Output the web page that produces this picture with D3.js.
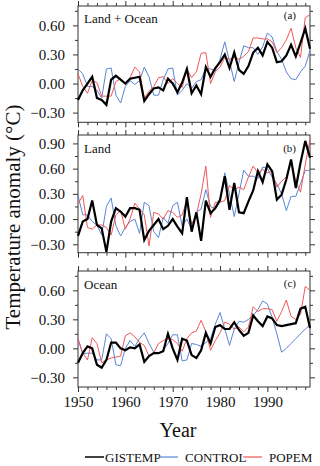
<!DOCTYPE html>
<html>
<head>
<meta charset="utf-8">
<script src="https://cdn.jsdelivr.net/npm/d3@7"></script>
<style>
  body { margin: 0; background: #fff; }
  svg { display: block; }
  text { font-family: "Liberation Serif", "DejaVu Serif", serif; fill: #111; }
</style>
</head>
<body>
<div class="container"></div>
<script>
// years on the x axis
let years = d3.range(1950, 2000);

// (a) Land + Ocean
let landOceanGistemp = [-0.17,-0.07,0.00,0.07,-0.15,-0.17,-0.22,0.04,0.08,0.04,
  0.00,0.05,0.06,0.07,-0.18,-0.11,-0.05,-0.04,-0.07,0.05,
  0.00,-0.09,0.01,0.15,-0.10,-0.02,-0.11,0.17,0.07,0.16,
  0.22,0.30,0.16,0.32,0.14,0.10,0.18,0.32,0.37,0.29,
  0.43,0.37,0.22,0.23,0.29,0.40,0.28,0.42,0.57,0.36];
let landOceanControl = [0.15,0.10,-0.03,-0.03,-0.07,-0.15,0.15,0.16,-0.12,-0.20,
  -0.03,0.03,-0.01,0.03,0.17,0.07,-0.12,-0.12,0.04,0.15,
  0.16,-0.12,-0.07,0.00,-0.05,0.02,0.04,0.16,0.15,0.13,
  0.25,0.43,0.23,0.02,0.22,0.39,0.37,0.37,0.30,0.38,
  0.52,0.48,0.33,0.25,0.12,0.05,0.04,0.12,0.18,0.34];
let landOceanPopem = [0.10,-0.03,-0.10,0.03,0.01,-0.13,-0.13,-0.13,0.02,0.05,
  -0.01,0.06,0.17,0.12,-0.15,-0.08,-0.03,0.06,0.07,0.00,
  0.05,0.00,-0.04,0.15,0.06,0.12,0.31,0.32,0.00,0.12,
  0.17,0.27,0.25,0.27,0.25,0.28,0.33,0.47,0.47,0.46,
  0.46,0.43,0.32,0.37,0.45,0.57,0.37,0.27,0.68,0.71];

// (b) Land
let landGistemp = [-0.20,-0.03,0.00,0.22,-0.07,-0.11,-0.39,-0.03,0.13,0.09,
  0.03,0.13,0.13,0.11,-0.25,-0.14,-0.07,0.00,-0.12,-0.08,
  0.00,-0.09,-0.17,0.26,-0.15,0.08,-0.26,0.22,0.07,0.13,
  0.23,0.51,0.11,0.43,0.08,0.07,0.21,0.34,0.57,0.44,
  0.65,0.57,0.23,0.29,0.47,0.71,0.37,0.67,0.93,0.73];
let landControl = [0.28,0.05,0.05,-0.03,-0.07,-0.19,0.15,0.25,-0.08,-0.20,
  -0.10,-0.03,0.00,-0.17,0.20,0.16,-0.15,-0.22,0.02,-0.05,
  0.16,0.20,-0.08,0.00,-0.12,0.08,0.12,0.35,0.15,0.12,
  0.20,0.55,0.30,0.03,0.30,0.58,0.51,0.51,0.48,0.62,
  0.60,0.50,0.42,0.30,0.10,0.27,0.27,0.42,0.58,0.58];
let landPopem = [0.18,0.28,-0.10,-0.12,-0.07,-0.07,-0.10,-0.19,0.05,0.10,
  -0.12,0.00,0.19,0.12,0.05,-0.32,0.08,0.06,0.00,0.10,
  0.08,0.02,0.05,0.22,-0.06,0.05,0.30,0.63,0.02,0.20,
  0.20,0.22,0.40,0.35,0.38,0.35,0.50,0.63,0.55,0.59,
  0.55,0.57,0.38,0.45,0.50,0.70,0.45,0.32,0.65,0.95];

// (c) Ocean
let oceanGistemp = [-0.15,-0.05,0.02,0.00,-0.17,-0.20,-0.12,0.06,0.06,0.00,
  -0.02,0.01,0.00,0.04,-0.14,-0.08,-0.05,-0.05,-0.03,0.15,
  0.00,-0.12,0.10,0.08,-0.07,-0.10,-0.02,0.16,0.05,0.22,
  0.24,0.20,0.20,0.27,0.19,0.13,0.16,0.34,0.28,0.23,
  0.33,0.31,0.24,0.23,0.24,0.25,0.26,0.41,0.43,0.21];
let oceanControl = [0.10,-0.06,-0.05,-0.05,-0.12,-0.12,0.15,0.10,-0.17,-0.18,
  0.00,0.08,0.02,0.10,0.16,0.05,-0.04,-0.05,-0.02,0.05,
  0.14,0.14,-0.13,-0.12,0.05,0.04,0.02,0.06,0.10,0.25,
  0.37,0.20,0.03,0.20,0.28,0.27,0.30,0.34,0.40,0.49,
  0.46,0.32,0.15,-0.04,0.00,0.05,0.10,0.15,0.20,0.24];
let oceanPopem = [0.10,-0.05,-0.12,0.11,0.05,-0.15,-0.12,-0.10,-0.09,-0.08,
  0.13,0.16,0.12,0.06,0.03,-0.08,-0.05,0.05,0.08,0.10,
  0.09,0.05,-0.03,0.10,0.16,0.18,0.29,0.17,-0.02,0.08,
  0.16,0.27,0.25,0.20,0.22,0.17,0.22,0.43,0.38,0.41,
  0.41,0.40,0.28,0.38,0.50,0.33,0.30,0.35,0.64,0.60];

let seriesNames = ['GISTEMP', 'CONTROL', 'POPEM'];

let outerWidth = 320, outerHeight = 466;
let colors = {GISTEMP: '#000000', CONTROL: '#5a86d4', POPEM: '#f05858'};
let widths = {GISTEMP: 2.2, CONTROL: 1, POPEM: 1};

let panels = [
  {name: 'Land + Ocean', tag: '(a)', top: 6, bottom: 122.3, domain: [-0.4, 0.8], labelY: 22.5, tagY: 19,
   series: {GISTEMP: landOceanGistemp, CONTROL: landOceanControl, POPEM: landOceanPopem}},
  {name: 'Land', tag: '(b)', top: 135, bottom: 252.7, domain: [-0.4, 1.0], labelY: 153, tagY: 152,
   series: {GISTEMP: landGistemp, CONTROL: landControl, POPEM: landPopem}},
  {name: 'Ocean', tag: '(c)', top: 271, bottom: 387, domain: [-0.4, 0.8], labelY: 289, tagY: 287,
   series: {GISTEMP: oceanGistemp, CONTROL: oceanControl, POPEM: oceanPopem}}
];

let svg = d3.select('.container').append('svg')
  .attr('width', outerWidth)
  .attr('height', outerHeight);

let xScale = d3.scaleLinear()
  .domain([1950, 1999])
  .range([78, 310]);

let majorYears = [1950, 1960, 1970, 1980, 1990];
let minorYears = years.filter(y => y % 2 == 0 && y % 10 != 0);

panels.forEach((p, pi) => {
  let yScale = d3.scaleLinear()
    .domain(p.domain)
    .range([p.bottom, p.top]);

  let g = svg.append('g').attr('class', 'panel');

  // y ticks every 0.15, labels on the 0.30 steps
  let allY = d3.range(-6, 8).map(k => +(k * 0.15).toFixed(2))
    .filter(v => v >= p.domain[0] && v <= p.domain[1]);
  let majorY = allY.filter(v => Math.round(v * 100) % 30 == 0);
  let minorY = allY.filter(v => Math.round(v * 100) % 30 != 0);

  let yAxisMajor = d3.axisLeft(yScale).tickValues(majorY).tickSize(5).tickPadding(8)
    .tickFormat(d3.format('.2f'));
  let yAxisMinor = d3.axisLeft(yScale).tickValues(minorY).tickSize(3).tickFormat('');
  let yRightMajor = d3.axisRight(yScale).tickValues(majorY).tickSize(5).tickFormat('');
  let yRightMinor = d3.axisRight(yScale).tickValues(minorY).tickSize(3).tickFormat('');

  g.append('g').attr('class', 'axis').attr('transform', 'translate(78,0)').call(yAxisMajor);
  g.append('g').attr('class', 'axis').attr('transform', 'translate(78,0)').call(yAxisMinor);
  g.append('g').attr('class', 'axis').attr('transform', 'translate(310,0)').call(yRightMajor);
  g.append('g').attr('class', 'axis').attr('transform', 'translate(310,0)').call(yRightMinor);

  let xTopMajor = d3.axisTop(xScale).tickValues(majorYears).tickSize(5).tickFormat('');
  let xTopMinor = d3.axisTop(xScale).tickValues(minorYears).tickSize(3).tickFormat('');
  let xBotMajor = d3.axisBottom(xScale).tickValues(majorYears).tickSize(5).tickPadding(4)
    .tickFormat(pi == 2 ? d3.format('d') : '');
  let xBotMinor = d3.axisBottom(xScale).tickValues(minorYears).tickSize(3).tickFormat('');

  g.append('g').attr('class', 'axis').attr('transform', `translate(0,${p.top})`).call(xTopMajor);
  g.append('g').attr('class', 'axis').attr('transform', `translate(0,${p.top})`).call(xTopMinor);
  g.append('g').attr('class', 'axis').attr('transform', `translate(0,${p.bottom})`).call(xBotMajor);
  g.append('g').attr('class', 'axis').attr('transform', `translate(0,${p.bottom})`).call(xBotMinor);

  // frame
  g.append('rect')
    .attr('x', 78).attr('y', p.top)
    .attr('width', 310 - 78).attr('height', p.bottom - p.top)
    .attr('fill', 'none').attr('stroke', '#333').attr('stroke-width', 1);

  let line = d3.line()
    .x((d, i) => xScale(years[i]))
    .y(d => yScale(d));

  ['CONTROL', 'POPEM', 'GISTEMP'].forEach(s => {
    g.append('path')
      .datum(p.series[s])
      .attr('d', line)
      .attr('fill', 'none')
      .attr('stroke', colors[s])
      .attr('stroke-width', widths[s])
      .attr('stroke-linejoin', 'miter');
  });

  g.append('text')
    .attr('x', 84).attr('y', p.labelY)
    .style('font-size', '13px')
    .text(p.name);

  g.append('text')
    .attr('x', 296).attr('y', p.tagY)
    .style('text-anchor', 'end')
    .style('font-size', '11px')
    .text(p.tag);
});

svg.selectAll('.axis path.domain').remove();
svg.selectAll('.axis line').attr('stroke', '#333');
svg.selectAll('.axis text')
  .style('font-family', '"Liberation Serif", serif')
  .style('font-size', '15px')
  .attr('fill', '#111');

// axis titles
svg.append('text')
  .attr('transform', 'translate(20,217) rotate(-90)')
  .style('text-anchor', 'middle')
  .style('font-size', '21px')
  .text('Temperature anomaly (°C)');

svg.append('text')
  .attr('x', 178).attr('y', 437)
  .style('text-anchor', 'middle')
  .style('font-size', '20px')
  .text('Year');

// legend
let legendX = [85, 159, 243];
let legend = svg.append('g').attr('class', 'legend');
seriesNames.forEach((s, i) => {
  legend.append('line')
    .attr('x1', legendX[i]).attr('x2', legendX[i] + 19)
    .attr('y1', 457).attr('y2', 457)
    .attr('stroke', colors[s])
    .attr('stroke-width', s == 'GISTEMP' ? 1.5 : 1.2);
  legend.append('text')
    .attr('x', legendX[i] + (s == 'GISTEMP' ? 20 : 26)).attr('y', 461.5)
    .style('font-size', '13px')
    .text(s);
});
</script>
</body>
</html>
